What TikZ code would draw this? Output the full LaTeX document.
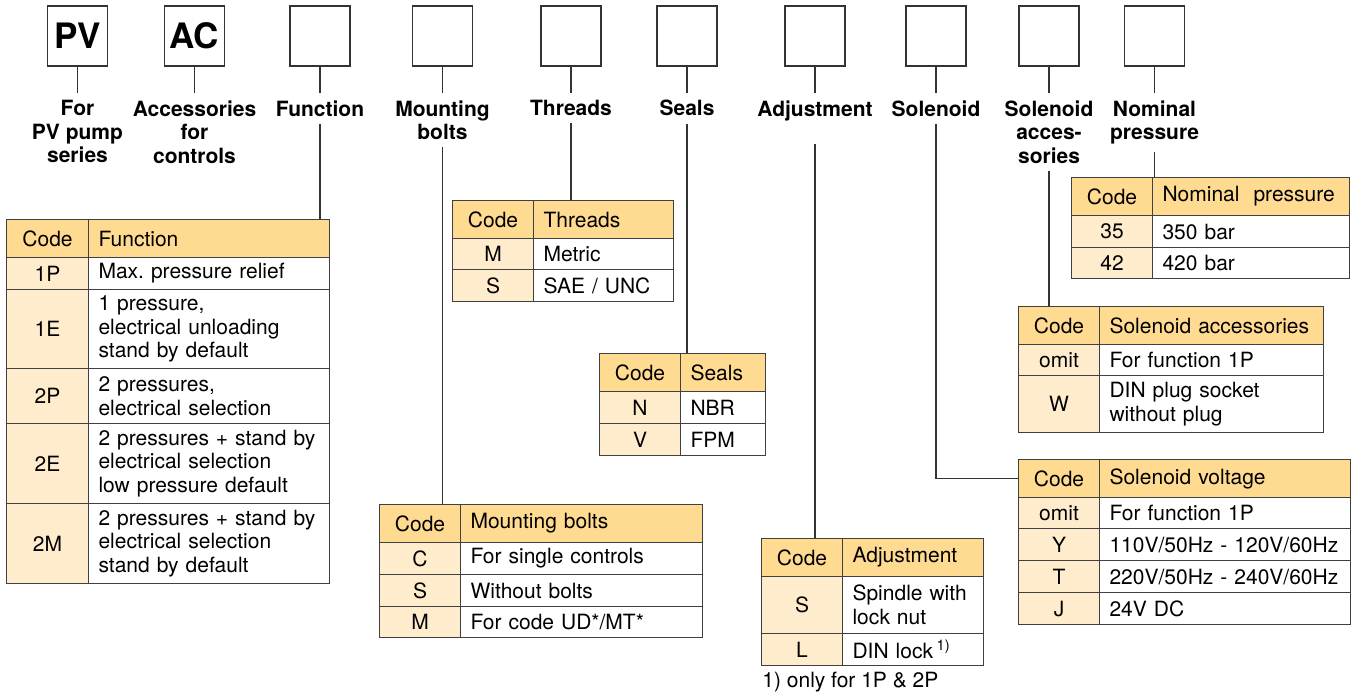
\documentclass[tikz,border=0pt]{standalone}
\usepackage{fontspec}
\setmainfont{TeX Gyre Heros}
\frenchspacing
\definecolor{headfill}{RGB}{255,218,145}
\definecolor{codefill}{RGB}{255,236,205}
\tikzset{
  keybox/.style={draw=black!80, line width=0.6pt, minimum size=30pt, inner sep=0pt,
    font=\fontsize{17.5}{17.5}\selectfont\bfseries},
  keylbl/.style={anchor=north, align=center, inner xsep=0pt, inner ysep=3.5pt,
    font=\fontsize{10.5}{11.75}\selectfont\bfseries},
  wire/.style={draw=black!80, line width=0.6pt},
  cell/.style={draw=black!75, line width=0.55pt, anchor=north west, inner ysep=0pt,
    font=\fontsize{10.5}{11.75}\selectfont},
  ccell/.style={cell, fill=codefill, inner xsep=0pt},
  dcell/.style={cell, fill=white, inner xsep=5pt, align=left},
  hcode/.style={ccell, fill=headfill, minimum height=19pt},
  hdesc/.style={dcell, fill=headfill, minimum height=19pt},
}
\begin{document}
\begin{tikzpicture}[x=0.5pt, y=-0.5pt]
  \useasboundingbox (0,0) rectangle (1356,697);

  % ordering key boxes
  \node[keybox] (pv-box)   at (77.5,36)  {PV};
  \node[keybox] (ac-box)   at (194.5,36) {AC};
  \node[keybox] (fun-box)  at (320,36)   {};
  \node[keybox] (bolt-box) at (442.5,36) {};
  \node[keybox] (thr-box)  at (571,36)   {};
  \node[keybox] (seal-box) at (687,36)   {};
  \node[keybox] (adj-box)  at (815,36)   {};
  \node[keybox] (sol-box)  at (936,36)   {};
  \node[keybox] (acc-box)  at (1049,36)  {};
  \node[keybox] (nom-box)  at (1154.5,36) {};

  % labels under the boxes
  \node[keylbl] (pv-lbl)   at (77.5,93)  {For\\PV pump\\series};
  \node[keylbl] (ac-lbl)   at (194.5,93) {Accessories\\for\\controls};
  \node[keylbl] (fun-lbl)  at (320,93)   {Function};
  \node[keylbl] (bolt-lbl) at (442.5,93) {Mounting\\bolts};
  \node[keylbl] (thr-lbl)  at (571,93)   {Threads};
  \node[keylbl] (seal-lbl) at (687,93)   {Seals};
  \node[keylbl] (adj-lbl)  at (815,93)   {Adjustment};
  \node[keylbl] (sol-lbl)  at (936,93)   {Solenoid};
  \node[keylbl] (acc-lbl)  at (1049,93)  {Solenoid\\acces-\\sories};
  \node[keylbl] (nom-lbl)  at (1154.5,93) {Nominal\\pressure};

  \foreach \k in {pv,ac,fun,bolt,thr,seal,adj,sol,acc,nom}
    \draw[wire] (\k-box.south) -- (\k-lbl.north);

  % Function
  \begin{scope}[shift={(6,219)}, cw/.style={minimum width=41pt}, dw/.style={text width=110.5pt}]
    \node[hcode, cw] (fun-hc) at (0,0) {Code};
    \node[hdesc, dw] (fun-hd) at (82,0) {Function};
    \foreach \y/\h/\c/\d [count=\i] in {38/32/1P/{Max. pressure relief},
        70/79/1E/{1 pressure,\\electrical unloading\\stand by default},
        149/55/2P/{2 pressures,\\electrical selection},
        204/80/2E/{2 pressures + stand by\\electrical selection\\low pressure default},
        284/80/2M/{2 pressures + stand by\\electrical selection\\stand by default}} {
      \node[ccell, cw, minimum height=\h*0.5pt] (fun-c\i) at (0,\y) {\c};
      \node[dcell, dw, minimum height=\h*0.5pt] (fun-d\i) at (82,\y) {\d};
    }
  \end{scope}

  % Threads
  \begin{scope}[shift={(452,200)}, cw/.style={minimum width=40.5pt}, dw/.style={text width=60pt}]
    \node[hcode, cw] (thr-hc) at (0,0) {Code};
    \node[hdesc, dw] (thr-hd) at (81,0) {Threads};
    \foreach \y/\h/\c/\d [count=\i] in {38/31/M/{Metric}, 69/32/S/{SAE / UNC}} {
      \node[ccell, cw, minimum height=\h*0.5pt] (thr-c\i) at (0,\y) {\c};
      \node[dcell, dw, minimum height=\h*0.5pt] (thr-d\i) at (81,\y) {\d};
    }
  \end{scope}

  % Seals
  \begin{scope}[shift={(599,353)}, cw/.style={minimum width=40.5pt}, dw/.style={text width=32.5pt}]
    \node[hcode, cw] (seal-hc) at (0,0) {Code};
    \node[hdesc, dw] (seal-hd) at (81,0) {Seals};
    \foreach \y/\h/\c/\d [count=\i] in {38/32/N/{NBR}, 70/32/V/{FPM}} {
      \node[ccell, cw, minimum height=\h*0.5pt] (seal-c\i) at (0,\y) {\c};
      \node[dcell, dw, minimum height=\h*0.5pt] (seal-d\i) at (81,\y) {\d};
    }
  \end{scope}

  % Mounting bolts
  \begin{scope}[shift={(379,504)}, cw/.style={minimum width=40.5pt}, dw/.style={text width=111pt}]
    \node[hcode, cw] (bolt-hc) at (0,0) {Code};
    \node[hdesc, dw] (bolt-hd) at (81,0) {Mounting bolts};
    \foreach \y/\h/\c/\d [count=\i] in {38/32/C/{For single controls},
        70/32/S/{Without bolts}, 102/31/M/{For code UD*/MT*}} {
      \node[ccell, cw, minimum height=\h*0.5pt] (bolt-c\i) at (0,\y) {\c};
      \node[dcell, dw, minimum height=\h*0.5pt] (bolt-d\i) at (81,\y) {\d};
    }
  \end{scope}

  % Adjustment
  \begin{scope}[shift={(761,538)}, cw/.style={minimum width=40.5pt}, dw/.style={text width=60.5pt}]
    \node[hcode, cw] (adj-hc) at (0,0) {Code};
    \node[hdesc, dw] (adj-hd) at (81,0) {Adjustment};
    \foreach \y/\h/\c/\d [count=\i] in {38/57/S/{Spindle with\\lock nut},
        95/32/L/{DIN lock\,\textsuperscript{1)}}} {
      \node[ccell, cw, minimum height=\h*0.5pt] (adj-c\i) at (0,\y) {\c};
      \node[dcell, dw, minimum height=\h*0.5pt] (adj-d\i) at (81,\y) {\d};
    }
  \end{scope}
  \node[anchor=base west, inner sep=0pt, font=\fontsize{10.5}{11.75}\selectfont]
    (adj-note) at (762,687) {1) only for 1P \& 2P};

  % Nominal pressure
  \begin{scope}[shift={(1071,177)}, cw/.style={minimum width=40.5pt}, dw/.style={text width=88.5pt}]
    \node[hcode, cw] (nom-hc) at (0,0) {Code};
    \node[hdesc, dw] (nom-hd) at (81,0) {Nominal~ pressure};
    \foreach \y/\h/\c/\d [count=\i] in {38/32/35/{350 bar}, 70/31/42/{420 bar}} {
      \node[ccell, cw, minimum height=\h*0.5pt] (nom-c\i) at (0,\y) {\c};
      \node[dcell, dw, minimum height=\h*0.5pt] (nom-d\i) at (81,\y) {\d};
    }
  \end{scope}

  % Solenoid accessories
  \begin{scope}[shift={(1018,306)}, cw/.style={minimum width=40.5pt}, dw/.style={text width=102pt}]
    \node[hcode, cw] (acc-hc) at (0,0) {Code};
    \node[hdesc, dw] (acc-hd) at (81,0) {Solenoid accessories};
    \foreach \y/\h/\c/\d [count=\i] in {38/31/omit/{For function 1P},
        69/57/W/{DIN plug socket\\without plug}} {
      \node[ccell, cw, minimum height=\h*0.5pt] (acc-c\i) at (0,\y) {\c};
      \node[dcell, dw, minimum height=\h*0.5pt] (acc-d\i) at (81,\y) {\d};
    }
  \end{scope}

  % Solenoid voltage
  \begin{scope}[shift={(1018,459)}, cw/.style={minimum width=40.5pt}, dw/.style={text width=115.5pt}]
    \node[hcode, cw] (volt-hc) at (0,0) {Code};
    \node[hdesc, dw] (volt-hd) at (81,0) {Solenoid voltage};
    \foreach \y/\h/\c/\d [count=\i] in {38/31/omit/{For function 1P},
        69/32/Y/{110V/50Hz - 120V/60Hz}, 101/32/T/{220V/50Hz - 240V/60Hz},
        133/32/J/{24V DC}} {
      \node[ccell, cw, minimum height=\h*0.5pt] (volt-c\i) at (0,\y) {\c};
      \node[dcell, dw, minimum height=\h*0.5pt] (volt-d\i) at (81,\y) {\d};
    }
  \end{scope}

  % leader lines to the tables
  \draw[wire] (fun-lbl.south) -- (fun-lbl.south |- fun-hd.north);
  \draw[wire] (bolt-lbl.south) -- (bolt-lbl.south |- bolt-hc.north);
  \draw[wire] (thr-lbl.south) -- (thr-lbl.south |- thr-hd.north);
  \draw[wire] (seal-lbl.south) -- (seal-lbl.south |- seal-hd.north);
  \draw[wire] ([yshift=-8pt]adj-lbl.south) -- (adj-lbl.south |- adj-hc.north);
  \draw[wire] (sol-lbl.south) |- (volt-hc.west);
  \draw[wire] (acc-lbl.south) -- (acc-lbl.south |- acc-hc.north);
  \draw[wire] (nom-lbl.south) -- (nom-lbl.south |- nom-hd.north);
\end{tikzpicture}
\end{document}
